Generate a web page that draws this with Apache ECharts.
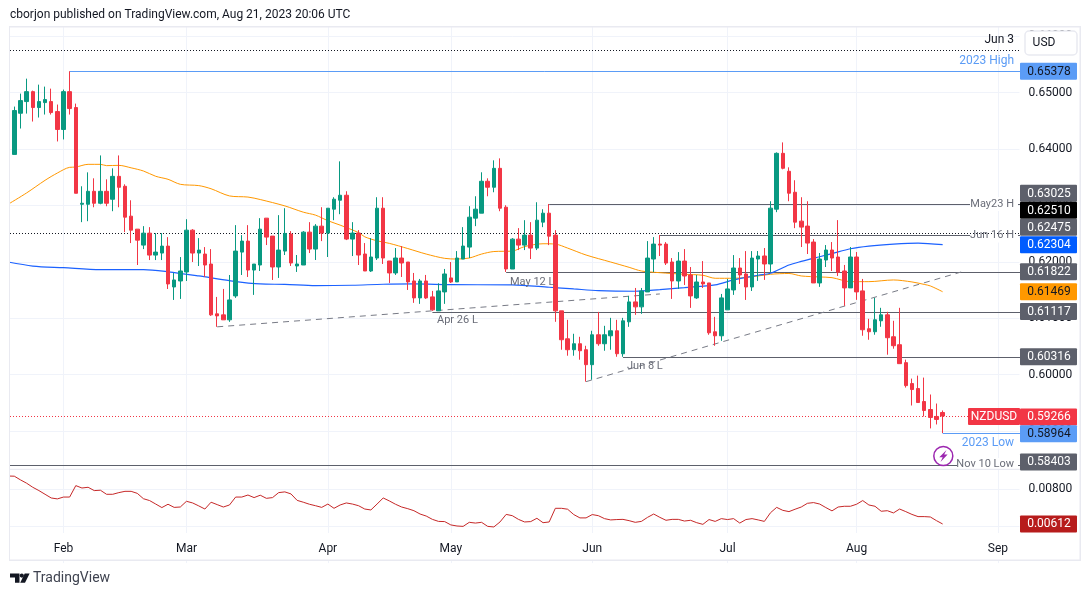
<!DOCTYPE html>
<html><head><meta charset="utf-8">
<style>html,body{margin:0;padding:0;background:#fff}#c{width:1091px;height:596px}</style>
<script src="https://cdn.jsdelivr.net/npm/echarts@6/dist/echarts.min.js"></script>
</head><body><div id="c"></div>
<script>
const days = [
'Jan 19','Jan 20','Jan 23','Jan 24','Jan 25','Jan 26','Jan 27','Jan 30','Jan 31',
'Feb 1','Feb 2','Feb 3','Feb 6','Feb 7','Feb 8','Feb 9','Feb 10','Feb 13','Feb 14','Feb 15','Feb 16','Feb 17','Feb 20','Feb 21','Feb 22','Feb 23','Feb 24','Feb 27','Feb 28',
'Mar 1','Mar 2','Mar 3','Mar 6','Mar 7','Mar 8','Mar 9','Mar 10','Mar 13','Mar 14','Mar 15','Mar 16','Mar 17','Mar 20','Mar 21','Mar 22','Mar 23','Mar 24','Mar 27','Mar 28','Mar 29','Mar 30','Mar 31',
'Apr 3','Apr 4','Apr 5','Apr 6','Apr 7','Apr 10','Apr 11','Apr 12','Apr 13','Apr 14','Apr 17','Apr 18','Apr 19','Apr 20','Apr 21','Apr 24','Apr 25','Apr 26','Apr 27','Apr 28',
'May 1','May 2','May 3','May 4','May 5','May 8','May 9','May 10','May 11','May 12','May 15','May 16','May 17','May 18','May 19','May 22','May 23','May 24','May 25','May 26','May 29','May 30','May 31',
'Jun 1','Jun 2','Jun 5','Jun 6','Jun 7','Jun 8','Jun 9','Jun 12','Jun 13','Jun 14','Jun 15','Jun 16','Jun 19','Jun 20','Jun 21','Jun 22','Jun 23','Jun 26','Jun 27','Jun 28','Jun 29','Jun 30',
'Jul 3','Jul 4','Jul 5','Jul 6','Jul 7','Jul 10','Jul 11','Jul 12','Jul 13','Jul 14','Jul 17','Jul 18','Jul 19','Jul 20','Jul 21','Jul 24','Jul 25','Jul 26','Jul 27','Jul 28','Jul 31',
'Aug 1','Aug 2','Aug 3','Aug 4','Aug 7','Aug 8','Aug 9','Aug 10','Aug 11','Aug 14','Aug 15','Aug 16','Aug 17','Aug 18','Aug 21','Aug 22','Aug 23','Aug 24','Aug 25','Aug 28','Aug 29','Aug 30','Aug 31',
'Sep 1','Sep 4','Sep 5','Sep 6'];
const monthStarts = {'Feb 1':'Feb','Mar 1':'Mar','Apr 3':'Apr','May 1':'May','Jun 1':'Jun','Jul 3':'Jul','Aug 1':'Aug','Sep 1':'Sep'};

const open = [
.64416,.63904,.64634,.64841,.65017,.64735,.64823,.64841,.64664,
.64346,.65017,.64735,.63020,.63020,.63250,.63038,.63250,.63109,.63515,.63339,.62809,.62579,.62296,.62508,.62119,.62155,.62278,.61554,.61660,
.61819,.62561,.62155,.62137,.61960,.61077,.61059,.60971,.61395,.62172,.62367,.61854,.61943,.62774,.62456,.61908,.62190,.62491,.61926,.61943,.62526,.62226,.62632,
.62509,.62933,.63092,.63180,.62403,.62509,.62138,.61837,.62067,.62950,.62014,.61802,.62067,.61996,.61660,.61360,.61660,.61378,.61130,.61466,
.61714,.61643,.62049,.62261,.62774,.62862,.63428,.63322,.63657,.62968,.61872,.62402,.62296,.62473,.62243,.62703,.62862,.62473,.61130,.60635,.60441,.60547,.60441,
.60176,.60706,.60547,.60688,.60777,.60370,.60936,.61289,.61201,.61466,.62049,.62314,.62314,.61996,.61660,.62013,.61766,.61360,.61642,.61625,.60759,.60688,
.61148,.61501,.61890,.61784,.61554,.62049,.62103,.61961,.62933,.63923,.63605,.63233,.62721,.62633,.62350,.61625,.62032,.62209,.62085,.61837,.61537,
.62085,.61484,.60813,.60760,.60954,.61060,.60671,.60530,.60212,.59841,.59753,.59523,.59381,.59258,.59328];
const close = [
.63904,.64682,.64858,.65017,.64735,.64841,.64876,.64646,.64346,
.65017,.64717,.63215,.63038,.63250,.63038,.63250,.63038,.63515,.63321,.62791,.62561,.62384,.62508,.62119,.62172,.62278,.61607,.61678,.61837,
.62561,.62155,.62208,.61943,.61059,.61041,.60971,.61324,.62190,.62367,.61854,.61960,.62579,.62438,.61908,.62208,.62503,.61979,.61961,.62526,.62226,.62632,.62509,
.62950,.63110,.63180,.62403,.62509,.62120,.61837,.62085,.62950,.62067,.61802,.62067,.61979,.61643,.61360,.61660,.61360,.61148,.61484,.61784,
.61643,.62067,.62279,.62791,.62933,.63428,.63322,.63657,.62950,.61873,.62402,.62296,.62473,.62243,.62738,.62862,.62455,.61130,.60618,.60441,.60547,.60423,.60176,
.60706,.60547,.60706,.60777,.60370,.60953,.61289,.61201,.61483,.62066,.62314,.62296,.61978,.61660,.62013,.61748,.61395,.61642,.61607,.60741,.60688,.61360,
.61519,.61890,.61766,.61554,.62066,.62103,.61961,.62951,.63923,.63658,.63216,.62703,.62615,.62332,.61625,.62049,.62209,.62067,.61814,.61537,.62085,
.61466,.60795,.60760,.60972,.61060,.60654,.60512,.60194,.59805,.59735,.59505,.59364,.59240,.59205,.59266];
const high = [
.64416,.64752,.64982,.65247,.65035,.65141,.65106,.65070,.64788,
.65053,.65378,.64805,.63339,.63586,.63480,.63886,.63462,.63657,.63886,.63374,.63091,.62579,.62632,.62614,.62508,.62508,.62437,.61801,.62084,
.62755,.62579,.62420,.62261,.62225,.61377,.61519,.61766,.62650,.62473,.62650,.61960,.62774,.62774,.62456,.62827,.62950,.62544,.62120,.62544,.62703,.62668,.62968,
.62950,.63145,.63781,.63251,.62703,.62562,.62332,.62420,.63145,.63145,.62014,.62244,.62279,.61996,.61802,.61696,.61767,.61484,.61619,.61873,
.61996,.62190,.62615,.62986,.63162,.63587,.63480,.63799,.63834,.63003,.62420,.62597,.62738,.62703,.63056,.62932,.63025,.62561,.61130,.60971,.60724,.60670,.60511,
.60777,.61112,.60865,.61006,.60971,.61006,.61395,.61536,.61536,.62367,.62438,.62475,.62349,.62066,.62172,.62225,.61907,.61766,.62013,.61625,.61024,.61430,
.61695,.62119,.62066,.62190,.62190,.62191,.62244,.63074,.63940,.64117,.63675,.63446,.63145,.63074,.62403,.62156,.62297,.62350,.62739,.61944,.62262,
.62173,.61696,.60989,.61360,.61184,.61113,.60954,.61184,.60265,.59929,.59982,.59947,.59647,.59487,.59364];
const low = [
.63904,.63904,.64363,.64628,.64487,.64558,.64611,.64611,.64134,
.64169,.64611,.63215,.62703,.62720,.62967,.63020,.62985,.62897,.62967,.62526,.62332,.61943,.62225,.62031,.62031,.62031,.61518,.61324,.61342,
.61660,.61996,.61925,.61731,.61041,.60847,.60971,.60935,.61360,.61766,.61731,.61413,.61837,.62297,.61678,.61714,.62120,.61926,.61820,.61943,.62155,.62032,.62367,
.62085,.62738,.62844,.62385,.62102,.61943,.61837,.61820,.62032,.61961,.61625,.61767,.61731,.61501,.61272,.61254,.61342,.61130,.61130,.61254,
.61625,.61643,.62049,.62067,.62632,.62862,.63162,.63233,.62897,.61820,.61872,.62208,.62208,.62049,.62208,.62614,.62296,.60936,.60441,.60335,.60335,.60264,.59875,
.59910,.60511,.60423,.60441,.60316,.60316,.60847,.61059,.61077,.61466,.61819,.62102,.61943,.61342,.61519,.61589,.61183,.61342,.61536,.60706,.60511,.60599,
.61148,.61413,.61607,.61324,.61483,.61661,.61679,.61820,.62880,.63640,.63074,.62597,.62262,.62138,.61625,.61555,.61908,.61837,.61749,.61219,.61537,
.61325,.60689,.60618,.60707,.60848,.60353,.60459,.60194,.59770,.59452,.59505,.59258,.59046,.59116,.58964];

const sma50Days = [0,3,6,8,10,11,13,15,16,18,20,22,24,26,28,31,33,36,39,41,45,48,50,52,54,57,58,60,62,65,68,71,73,75,77,79,82,84,87,89,91,94,98,101,103,106,110,113,115,118,122,124,127,129,132,134,137,140,144,147,149,150,152];
const sma50 = [.63021,.63221,.63445,.63574,.63675,.63680,.63728,.63728,.63705,.63710,.63666,.63610,.63516,.63463,.63374,.63351,.63295,.63168,.63148,.63104,.62991,.62880,.62827,.62729,.62650,.62517,.62443,.62372,.62327,.62235,.62137,.62061,.62049,.62067,.62137,.62182,.62190,.62270,.62320,.62314,.62243,.62120,.61996,.61902,.61837,.61807,.61779,.61761,.61708,.61708,.61749,.61779,.61793,.61749,.61731,.61719,.61648,.61648,.61678,.61643,.61599,.61572,.61469];
const sma200Days = [0,4,9,15,22,26,31,36,41,45,50,56,61,66,72,82,88,92,96,102,106,110,115,118,122,124,127,129,132,134,137,140,144,148,152];
const sma200 = [.61996,.61925,.61895,.61860,.61860,.61823,.61749,.61666,.61607,.61600,.61577,.61584,.61602,.61607,.61595,.61590,.61549,.61519,.61489,.61478,.61507,.61542,.61590,.61678,.61761,.61796,.61943,.62007,.62090,.62145,.62231,.62279,.62314,.62332,.62304];
const spreadValues = [
.00872,.00871,.00851,.00833,.00811,.00793,.00773,.00753,.00748,.00758,.00758,.00820,.00807,.00811,.00793,.00795,.00773,.00773,.00782,.00789,.00789,.00778,.00749,.00739,.00720,.00701,.00719,.00702,.00704,.00735,.00726,.00710,.00693,.00730,.00717,.00704,.00715,.00758,.00758,.00769,.00755,.00768,.00751,.00755,.00782,.00786,.00775,.00740,.00730,.00719,.00711,.00702,.00720,.00697,.00715,.00726,.00720,.00711,.00693,.00688,.00720,.00753,.00737,.00719,.00704,.00695,.00684,.00666,.00655,.00637,.00626,.00625,.00607,.00601,.00599,.00621,.00617,.00621,.00599,.00596,
.00623,.00664,.00657,.00637,.00623,.00625,.00643,.00619,.00623,.00697,.00697,.00692,.00663,.00645,.00645,.00663,.00657,.00641,.00634,.00636,.00637,.00630,.00621,.00626,.00648,.00666,.00648,.00632,.00637,.00637,.00628,.00632,.00619,.00610,.00636,.00626,.00641,.00636,.00641,.00617,.00636,.00641,.00634,.00626,.00673,.00702,.00686,.00679,.00692,.00704,.00724,.00728,.00720,.00701,.00683,.00704,.00708,.00708,.00719,.00739,.00715,.00708,.00681,.00684,.00672,.00693,.00679,.00664,.00652,.00652,.00650,.00630,.00612];

const trendFromDays = [34, 94];
const trendFromPrices = [.60847, .59875];
const trendToDays = [106, 155];
const trendToPrices = [.61430, .61819];

const levelDays = [null, 10, 88, null, 106, 81, 69, 100, null, 152, null];
const levelPrices = [.65750, .65378, .63025, .62510, .62475, .61822, .61117, .60316, .59266, .58964, .58403];
const levelKinds = ['dots','high','plain','dots','plain','plain','plain','plain','last','high','plain'];

const tagTexts = ['0.65378','0.63025','0.62510','0.62475','0.62304','0.61822','0.61469','0.61117','0.60316','0.59266','0.58964','0.58403'];
const tagPrices = [.65378,.63025,.62510,.62475,.62304,.61822,.61469,.61117,.60316,.59266,.58964,.58403];
const tagKinds = ['sky','gray','black','gray','blue','gray','orange','gray','gray','red','sky','gray'];
// How far TradingView pushed each tag off its price so that they do not overlap.
const tagNudge = [0,-10.7,-22.7,-7.7,0,0,0,0,0,1,0.7,-2.7];
const spreadTagText = '0.00612', spreadTagValue = .00612;

const fontName = 'Roboto';
const font = '"Roboto", sans-serif';
const tagStyles = {sky:['#5b9cf6','#131722'],gray:['#5d606b','#fff'],black:['#000','#fff'],blue:['#005cff','#fff'],orange:['#ff9800','#131722'],red:['#f23645','#fff'],dark:['#b71c1c','#fff']};
const lineStyles = {plain:{stroke:'#5d606b',lineWidth:1},high:{stroke:'#5b9cf6',lineWidth:1},dots:{stroke:'#131722',lineWidth:1,lineDash:[1,2]},last:{stroke:'#f23645',lineWidth:1,lineDash:[1,2]}};

const pairs = (xs, ys) => xs.map((x, i) => [x, ys[i]]);
const tagSeries = (name, xIndex, yIndex, texts, values, kinds, nudges) => ({
  type:'custom', name, xAxisIndex:xIndex, yAxisIndex:yIndex, z:70, silent:true, clip:false,
  data: values.map(v => [0, v]),
  renderItem(params, api) {
    const i = params.dataIndex, y = api.coord([0, api.value(1)])[1] + nudges[i];
    const s = tagStyles[kinds[i]];
    return {type:'group', children:[
      {type:'rect', shape:{x:1020,y:y-8.5,width:57,height:17,r:1}, style:{fill:s[0]}},
      {type:'text', style:{x:1049,y:y+.5,text:texts[i],fill:s[1],font:'12px '+font,textAlign:'center',textVerticalAlign:'middle'}}
    ]};
  }
});

const monthAxisInterval = (i, v) => monthStarts[v] !== undefined;
const chart = echarts.init(document.getElementById('c'));
const note = (x, y, text, fill, align, size) => ({type:'text', z:60, style:{x, y, text, fill, font:(size||11)+'px '+font, textAlign:align, textVerticalAlign:'middle'}});
const wipe = (x, y, width, height) => ({type:'rect', z:50, shape:{x,y,width,height}, style:{fill:'#fff'}});
const frame = (x, y, width, height) => ({type:'rect', z:55, shape:{x,y,width,height}, style:{fill:'#e9eaf1'}});
const priceLabel = {showMinLabel:false, showMaxLabel:false, margin:9, color:'#131722', fontFamily:fontName, fontSize:12, padding:[3,0,0,0], formatter:v => v.toFixed(5)};
const priceSplit = {showMinLine:false, showMaxLine:false, lineStyle:{color:'#f0f3fa'}};
const noAxisParts = {axisLine:{show:false}, axisTick:{show:false}};

chart.setOption({
  animation:false,
  backgroundColor:'#fff',
  grid:[
    {left:5.1, width:1014.4, top:0, height:487.4},
    {left:5.1, width:1014.4, top:452.4, height:110.7},
    {left:5.1, width:1014.4, top:533, height:1}
  ],
  xAxis:[
    Object.assign({type:'category', gridIndex:0, data:days, axisLabel:{show:false},
      splitLine:{show:true, interval:monthAxisInterval, alignWithLabel:true, lineStyle:{color:'#f0f3fa'}}}, noAxisParts),
    Object.assign({type:'category', gridIndex:1, data:days, axisLabel:{show:false},
      splitLine:{show:true, interval:monthAxisInterval, alignWithLabel:true, lineStyle:{color:'#f0f3fa'}}}, noAxisParts),
    Object.assign({type:'category', gridIndex:2, data:days, z:60,
      axisLabel:{interval:monthAxisInterval, formatter:v => monthStarts[v] || '', color:'#131722', fontFamily:fontName, fontSize:12, margin:9}}, noAxisParts)
  ],
  yAxis:[
    Object.assign({type:'value', gridIndex:0, position:'right', min:.58, max:.666418, interval:.01, axisLabel:priceLabel, splitLine:priceSplit}, noAxisParts),
    Object.assign({type:'value', gridIndex:1, position:'right', min:.004, max:.01, interval:.002, axisLabel:priceLabel, splitLine:priceSplit}, noAxisParts),
    {type:'value', gridIndex:2, show:false}
  ],
  series:[
    {type:'custom', name:'Levels', z:3, silent:true, clip:false, xAxisIndex:0, yAxisIndex:0,
     data: levelPrices.map((p, i) => [levelDays[i] === null ? 0 : levelDays[i], p]),
     renderItem(params, api) {
       const i = params.dataIndex, pt = api.coord([api.value(0), api.value(1)]);
       const y = Math.round(pt[1]) + .5;
       const x1 = levelDays[i] === null ? 10 : pt[0];
       return {type:'line', shape:{x1, y1:y, x2:1020, y2:y}, style:Object.assign({fill:null}, lineStyles[levelKinds[i]])};
     }},
    {type:'line', name:'Trend A', z:4, silent:true, symbol:'none', data:[[trendFromDays[0],trendFromPrices[0]],[trendToDays[0],trendToPrices[0]]], lineStyle:{color:'#787b86',width:1,type:[6,5]}},
    {type:'line', name:'Trend B', z:4, silent:true, symbol:'none', data:[[trendFromDays[1],trendFromPrices[1]],[trendToDays[1],trendToPrices[1]]], lineStyle:{color:'#787b86',width:1,type:[6,5]}},
    {type:'line', name:'SMA 50', z:5, silent:true, symbol:'none', smooth:.3, data:pairs(sma50Days, sma50), lineStyle:{color:'#ff9800',width:1}},
    {type:'line', name:'SMA 200', z:5, silent:true, symbol:'none', smooth:.3, data:pairs(sma200Days, sma200), lineStyle:{color:'#1c62ff',width:1.2}},
    {type:'candlestick', name:'NZDUSD', z:6, silent:true, barWidth:4, clip:true,
     data: open.map((o, i) => [o, close[i], low[i], high[i]]),
     itemStyle:{color:'#089981', color0:'#f23645', borderColor:'#089981', borderColor0:'#f23645', borderWidth:1}},
    {type:'line', name:'Spread', xAxisIndex:1, yAxisIndex:1, z:5, silent:true, symbol:'none', data:spreadValues, lineStyle:{color:'#c62828',width:1}},
    tagSeries('Price tags', 0, 0, tagTexts, tagPrices, tagKinds, tagNudge),
    tagSeries('Spread tag', 1, 1, [spreadTagText], [spreadTagValue], ['dark'], [0])
  ],
  graphic:{elements:[
    wipe(0, 0, 1091, 26),
    wipe(0, 20, 9.5, 540),
    wipe(5, 533, 1020, 27),
    wipe(970, 197, 48, 14), wipe(970, 234.5, 48, 8), wipe(957, 458, 61, 6.5), wipe(957, 465, 61, 4),
    frame(9, 26, 1, 535), frame(9, 26, 1072, 1.5), frame(1079.5, 26, 1.5, 535), frame(9, 559.5, 1072, 1.5), frame(10, 468.8, 1010, 1.2),
    note(10, 15, 'cborjon published on TradingView.com, Aug 21, 2023 20:06 UTC', '#131722', 'left', 12),
    note(1014, 40, 'Jun 3', '#131722', 'right', 12),
    note(1014, 61, '2023 High', '#5b9cf6', 'right', 12),
    note(1014, 204, 'May23 H', '#6a6d78', 'right'),
    note(1014, 235, 'Jun 16 H', '#6a6d78', 'right'),
    note(510, 282, 'May 12 L', '#6a6d78', 'left'),
    note(437, 320, 'Apr 26 L', '#6a6d78', 'left'),
    note(627, 366, 'Jun 8 L', '#6a6d78', 'left'),
    note(1014, 443, '2023 Low', '#5b9cf6', 'right', 12),
    note(1014, 464, 'Nov 10 Low', '#6a6d78', 'right'),
    {type:'rect', z:65, shape:{x:968,y:408,width:52,height:17,r:1}, style:{fill:'#f23645'}},
    {type:'text', z:66, style:{x:994,y:417,text:'NZDUSD',fill:'#fff',font:'12px '+font,textAlign:'center',textVerticalAlign:'middle'}},
    {type:'rect', z:65, shape:{x:1025,y:31,width:52,height:24,r:4}, style:{fill:'#fff',stroke:'#e9eaf1',lineWidth:1.5}},
    {type:'text', z:66, style:{x:1044,y:43,text:'USD',fill:'#131722',font:'12px '+font,textAlign:'center',textVerticalAlign:'middle'}},
    {type:'circle', z:65, shape:{cx:943.3,cy:456,r:9.5}, style:{fill:'#fff',stroke:'#9c27b0',lineWidth:1.5}},
    {type:'polygon', z:66, shape:{points:[[946.5,450],[939.3,457.3],[942.7,457.3],[940.5,462],[947.6,454.6],[944.2,454.6]]}, style:{fill:'#9c27b0'}},
    {type:'polygon', z:66, shape:{points:[[10,573.5],[19.5,573.5],[19.5,582.7],[15,582.7],[15,577.6],[10,577.6]]}, style:{fill:'#131722'}},
    {type:'circle', z:66, shape:{cx:21.8,cy:575.6,r:2.1}, style:{fill:'#131722'}},
    {type:'polygon', z:66, shape:{points:[[24.7,573.5],[29.6,573.5],[25,582.7],[20.2,582.7]]}, style:{fill:'#131722'}},
    {type:'text', z:66, style:{x:33,y:578,text:'TradingView',fill:'#3f4350',font:'14px '+font,textAlign:'left',textVerticalAlign:'middle'}}
  ]}
});
</script></body></html>
